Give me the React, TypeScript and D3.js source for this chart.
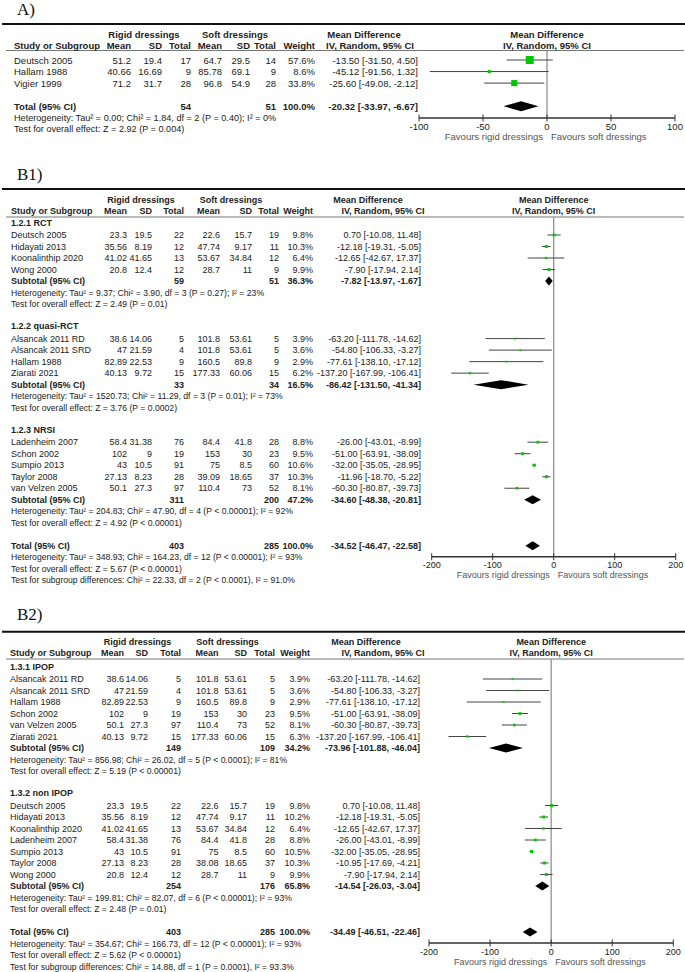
import React from "react";
import * as d3 from "d3";

// [study, rigid mean, rigid SD, rigid n, soft mean, soft SD, soft n, weight %, MD, CI low, CI high]
type Study = [string, number, number, number, number, number, number, number, number, number, number];
// [rigid n, soft n, weight %, MD, CI low, CI high]
type Summary = [number, number, number, number, number, number];

// ---- A) ----
const studiesA: Study[] = [
  ["Deutsch 2005", 51.2, 19.4, 17, 64.7, 29.5, 14, 57.6, -13.5, -31.5, 4.5],
  ["Hallam 1988", 40.66, 16.69, 9, 85.78, 69.1, 9, 8.6, -45.12, -91.56, 1.32],
  ["Vigier 1999", 71.2, 31.7, 28, 96.8, 54.9, 28, 33.8, -25.6, -49.08, -2.12],
];
const totalA: Summary = [54, 51, 100, -20.32, -33.97, -6.67];
const notesA = [
  "Heterogeneity: Tau² = 0.00; Chi² = 1.84, df = 2 (P = 0.40); I² = 0%",
  "Test for overall effect: Z = 2.92 (P = 0.004)",
];

// ---- B1) ----
const groupsB1 = ["1.2.1 RCT", "1.2.2 quasi-RCT", "1.2.3 NRSI"];
const rctB1: Study[] = [
  ["Deutsch 2005", 23.3, 19.5, 22, 22.6, 15.7, 19, 9.8, 0.7, -10.08, 11.48],
  ["Hidayati 2013", 35.56, 8.19, 12, 47.74, 9.17, 11, 10.3, -12.18, -19.31, -5.05],
  ["Koonalinthip 2020", 41.02, 41.65, 13, 53.67, 34.84, 12, 6.4, -12.65, -42.67, 17.37],
  ["Wong 2000", 20.8, 12.4, 12, 28.7, 11, 9, 9.9, -7.9, -17.94, 2.14],
];
const quasiB1: Study[] = [
  ["Alsancak 2011 RD", 38.6, 14.06, 5, 101.8, 53.61, 5, 3.9, -63.2, -111.78, -14.62],
  ["Alsancak 2011 SRD", 47, 21.59, 4, 101.8, 53.61, 5, 3.6, -54.8, -106.33, -3.27],
  ["Hallam 1988", 82.89, 22.53, 9, 160.5, 89.8, 9, 2.9, -77.61, -138.1, -17.12],
  ["Ziarati 2021", 40.13, 9.72, 15, 177.33, 60.06, 15, 6.2, -137.2, -167.99, -106.41],
];
const nrsiB1: Study[] = [
  ["Ladenheim 2007", 58.4, 31.38, 76, 84.4, 41.8, 28, 8.8, -26.0, -43.01, -8.99],
  ["Schon 2002", 102, 9, 19, 153, 30, 23, 9.5, -51.0, -63.91, -38.09],
  ["Sumpio 2013", 43, 10.5, 91, 75, 8.5, 60, 10.6, -32.0, -35.05, -28.95],
  ["Taylor 2008", 27.13, 8.23, 28, 39.09, 18.65, 37, 10.3, -11.96, -18.7, -5.22],
  ["van Velzen 2005", 50.1, 27.3, 97, 110.4, 73, 52, 8.1, -60.3, -80.87, -39.73],
];
const subtotalsB1: Summary[] = [
  [59, 51, 36.3, -7.82, -13.97, -1.67],
  [33, 34, 16.5, -86.42, -131.5, -41.34],
  [311, 200, 47.2, -34.6, -48.38, -20.81],
];
const groupNotesB1 = [
  ["Heterogeneity: Tau² = 9.37; Chi² = 3.90, df = 3 (P = 0.27); I² = 23%", "Test for overall effect: Z = 2.49 (P = 0.01)"],
  ["Heterogeneity: Tau² = 1520.73; Chi² = 11.29, df = 3 (P = 0.01); I² = 73%", "Test for overall effect: Z = 3.76 (P = 0.0002)"],
  ["Heterogeneity: Tau² = 204.83; Chi² = 47.90, df = 4 (P < 0.00001); I² = 92%", "Test for overall effect: Z = 4.92 (P < 0.00001)"],
];
const totalB1: Summary = [403, 285, 100, -34.52, -46.47, -22.58];
const notesB1 = [
  "Heterogeneity: Tau² = 348.93; Chi² = 164.23, df = 12 (P < 0.00001); I² = 93%",
  "Test for overall effect: Z = 5.67 (P < 0.00001)",
  "Test for subgroup differences: Chi² = 22.33, df = 2 (P < 0.0001), I² = 91.0%",
];

// ---- B2) ----
const groupsB2 = ["1.3.1 IPOP", "1.3.2 non IPOP"];
const ipopB2: Study[] = [
  ["Alsancak 2011 RD", 38.6, 14.06, 5, 101.8, 53.61, 5, 3.9, -63.2, -111.78, -14.62],
  ["Alsancak 2011 SRD", 47, 21.59, 4, 101.8, 53.61, 5, 3.6, -54.8, -106.33, -3.27],
  ["Hallam 1988", 82.89, 22.53, 9, 160.5, 89.8, 9, 2.9, -77.61, -138.1, -17.12],
  ["Schon 2002", 102, 9, 19, 153, 30, 23, 9.5, -51.0, -63.91, -38.09],
  ["van Velzen 2005", 50.1, 27.3, 97, 110.4, 73, 52, 8.1, -60.3, -80.87, -39.73],
  ["Ziarati 2021", 40.13, 9.72, 15, 177.33, 60.06, 15, 6.3, -137.2, -167.99, -106.41],
];
const nonIpopB2: Study[] = [
  ["Deutsch 2005", 23.3, 19.5, 22, 22.6, 15.7, 19, 9.8, 0.7, -10.08, 11.48],
  ["Hidayati 2013", 35.56, 8.19, 12, 47.74, 9.17, 11, 10.2, -12.18, -19.31, -5.05],
  ["Koonalinthip 2020", 41.02, 41.65, 13, 53.67, 34.84, 12, 6.4, -12.65, -42.67, 17.37],
  ["Ladenheim 2007", 58.4, 31.38, 76, 84.4, 41.8, 28, 8.8, -26.0, -43.01, -8.99],
  ["Sumpio 2013", 43, 10.5, 91, 75, 8.5, 60, 10.5, -32.0, -35.05, -28.95],
  ["Taylor 2008", 27.13, 8.23, 28, 38.08, 18.65, 37, 10.3, -10.95, -17.69, -4.21],
  ["Wong 2000", 20.8, 12.4, 12, 28.7, 11, 9, 9.9, -7.9, -17.94, 2.14],
];
const subtotalsB2: Summary[] = [
  [149, 109, 34.2, -73.96, -101.88, -46.04],
  [254, 176, 65.8, -14.54, -26.03, -3.04],
];
const groupNotesB2 = [
  ["Heterogeneity: Tau² = 856.98; Chi² = 26.02, df = 5 (P < 0.0001); I² = 81%", "Test for overall effect: Z = 5.19 (P < 0.00001)"],
  ["Heterogeneity: Tau² = 199.81; Chi² = 82.07, df = 6 (P < 0.00001); I² = 93%", "Test for overall effect: Z = 2.48 (P = 0.01)"],
];
const totalB2: Summary = [403, 285, 100, -34.49, -46.51, -22.46];
const notesB2 = [
  "Heterogeneity: Tau² = 354.67; Chi² = 166.73, df = 12 (P < 0.00001); I² = 93%",
  "Test for overall effect: Z = 5.62 (P < 0.00001)",
  "Test for subgroup differences: Chi² = 14.88, df = 1 (P = 0.0001), I² = 93.3%",
];

const ticksA = [-100, -50, 0, 50, 100];
const ticksB = [-200, -100, 0, 100, 200];

type Row =
  | { kind: "study"; s: Study }
  | { kind: "group"; label: string }
  | { kind: "sum"; label: string; v: Summary }
  | { kind: "note"; label: string }
  | { kind: "blank" };

function buildRows(groups: string[], studies: Study[][], subs: Summary[], groupNotes: string[][], total: Summary, notes: string[]) {
  const rows: Row[] = [];
  groups.forEach((g, i) => {
    rows.push({ kind: "group", label: g });
    studies[i].forEach((s) => rows.push({ kind: "study", s }));
    rows.push({ kind: "sum", label: "Subtotal (95% CI)", v: subs[i] });
    groupNotes[i].forEach((n) => rows.push({ kind: "note", label: n }));
    rows.push({ kind: "blank" });
  });
  rows.push({ kind: "sum", label: "Total (95% CI)", v: total });
  notes.forEach((n) => rows.push({ kind: "note", label: n }));
  return rows;
}

const rowsA: Row[] = [
  ...studiesA.map((s) => ({ kind: "study", s } as Row)),
  { kind: "blank" },
  { kind: "sum", label: "Total (95% CI)", v: totalA },
  ...notesA.map((n) => ({ kind: "note", label: n } as Row)),
];
const rowsB1 = buildRows(groupsB1, [rctB1, quasiB1, nrsiB1], subtotalsB1, groupNotesB1, totalB1, notesB1);
const rowsB2 = buildRows(groupsB2, [ipopB2, nonIpopB2], subtotalsB2, groupNotesB2, totalB2, notesB2);

const cfgA = {
  title: "A)", titleY: 15, thickY: 24, h1Y: 34, h2Y: 45, thinY: 50.5, row0: 60, step: 11.55, fs: 9.5,
  cols: { name: 14, m1: 131, sd1: 162, n1: 191, m2: 222, sd2: 250, n2: 276, w: 315, ci: 418 },
  rigidC: 144, softC: 235, mdC: 364, ivC: 370,
  domain: [-100, 100], range: [419, 675], ticks: ticksA, axisY: 118, boxK: 1.05, diamondH: 10,
};
const cfgB1 = {
  title: "B1)", titleY: 180, thickY: 189, h1Y: 200, h2Y: 211, thinY: 217, row0: 223.5, step: 11.51, fs: 9,
  cols: { name: 11, m1: 127, sd1: 152, n1: 184, m2: 220, sd2: 252, n2: 279, w: 313, ci: 421 },
  rigidC: 141, softC: 231, mdC: 368, ivC: 383,
  domain: [-200, 200], range: [431.7, 675.7], ticks: ticksB, axisY: 556.7, boxK: 0.92, diamondH: 9,
};
const cfgB2 = {
  title: "B2)", titleY: 620, thickY: 631.7, h1Y: 642, h2Y: 653, thinY: 659, row0: 667.5, step: 11.5, fs: 9,
  cols: { name: 10, m1: 124, sd1: 148, n1: 181, m2: 218.5, sd2: 247, n2: 275, w: 310, ci: 420 },
  rigidC: 137.5, softC: 227.5, mdC: 366, ivC: 383,
  domain: [-200, 200], range: [429, 673.3], ticks: ticksB, axisY: 943, boxK: 0.92, diamondH: 9,
};

const FONT = "Arial, 'Liberation Sans', sans-serif";
const TXT = "#222";
const f2 = (v: number) => v.toFixed(2);
const ciText = (md: number, lo: number, hi: number) => `${f2(md)} [${f2(lo)}, ${f2(hi)}]`;

function Panel({ cfg, rows }: { cfg: typeof cfgA; rows: Row[] }) {
  const x = d3.scaleLinear().domain(cfg.domain).range(cfg.range);
  const y = (i: number) => cfg.row0 + i * cfg.step;
  const c = cfg.cols;
  const x0 = x(0);

  const T = (props: any) => (
    <text dominantBaseline="central" fontSize={cfg.fs} fill={TXT} {...props} />
  );

  const marks: React.ReactNode[] = [];
  const texts: React.ReactNode[] = [];

  rows.forEach((r, i) => {
    const yy = y(i);
    if (r.kind === "group") {
      texts.push(<T key={"g" + i} x={c.name} y={yy - 1} fontWeight="bold">{r.label}</T>);
    } else if (r.kind === "note") {
      texts.push(<T key={"n" + i} x={c.name} y={yy} fontSize={cfg.fs * 0.96}>{r.label}</T>);
    } else if (r.kind === "study") {
      const [name, m1, sd1, n1, m2, sd2, n2, w, md, lo, hi] = r.s;
      const vals: [number, string][] = [
        [c.m1, String(m1)], [c.sd1, String(sd1)], [c.n1, String(n1)],
        [c.m2, String(m2)], [c.sd2, String(sd2)], [c.n2, String(n2)],
        [c.w, `${w.toFixed(1)}%`], [c.ci, ciText(md, lo, hi)],
      ];
      texts.push(<T key={"s" + i} x={c.name} y={yy}>{name}</T>);
      vals.forEach(([xx, t], j) =>
        texts.push(<T key={`s${i}-${j}`} x={xx} y={yy} textAnchor="end">{t}</T>)
      );
      const side = Math.max(1.8, cfg.boxK * Math.sqrt(w));
      marks.push(
        <g key={"m" + i}>
          <line x1={x(lo)} x2={x(hi)} y1={yy} y2={yy} stroke="#444" strokeWidth={1} />
          <rect x={x(md) - side / 2} y={yy - side / 2} width={side} height={side} fill="#00c800" />
        </g>
      );
    } else if (r.kind === "sum") {
      const [n1, n2, w, md, lo, hi] = r.v;
      const vals: [number, string][] = [
        [c.n1, String(n1)], [c.n2, String(n2)],
        [c.w, `${w.toFixed(1)}%`], [c.ci, ciText(md, lo, hi)],
      ];
      texts.push(<T key={"t" + i} x={c.name} y={yy} fontWeight="bold">{r.label}</T>);
      vals.forEach(([xx, t], j) =>
        texts.push(<T key={`t${i}-${j}`} x={xx} y={yy} textAnchor="end" fontWeight="bold">{t}</T>)
      );
      const h = cfg.diamondH / 2;
      const pts = [[x(lo), yy], [x(md), yy - h], [x(hi), yy], [x(md), yy + h]]
        .map((p) => p.join(",")).join(" ");
      marks.push(<polygon key={"d" + i} points={pts} fill="#000" />);
    }
  });

  const [d0, d1] = cfg.domain;

  return (
    <g fontFamily={FONT}>
      <text x={17} y={cfg.titleY} fontFamily="'Liberation Serif', 'Times New Roman', serif" fontSize={17} fill="#111">
        {cfg.title}
      </text>
      <line x1={2} x2={685} y1={cfg.thickY} y2={cfg.thickY} stroke="#111" strokeWidth={2} />
      <line x1={6} x2={684} y1={cfg.thinY} y2={cfg.thinY} stroke="#777" strokeWidth={1} />

      {/* header */}
      <T x={cfg.rigidC} y={cfg.h1Y} textAnchor="middle" fontWeight="bold">Rigid dressings</T>
      <T x={cfg.softC} y={cfg.h1Y} textAnchor="middle" fontWeight="bold">Soft dressings</T>
      <T x={cfg.mdC} y={cfg.h1Y} textAnchor="middle" fontWeight="bold">Mean Difference</T>
      <T x={x0} y={cfg.h1Y} textAnchor="middle" fontWeight="bold">Mean Difference</T>
      <T x={c.name} y={cfg.h2Y} fontWeight="bold">Study or Subgroup</T>
      {([
        [c.m1, "Mean"], [c.sd1, "SD"], [c.n1, "Total"],
        [c.m2, "Mean"], [c.sd2, "SD"], [c.n2, "Total"], [c.w, "Weight"],
      ] as [number, string][]).map(([xx, t], j) => (
        <T key={"h" + j} x={xx} y={cfg.h2Y} textAnchor="end" fontWeight="bold">{t}</T>
      ))}
      <T x={cfg.ivC} y={cfg.h2Y} textAnchor="middle" fontWeight="bold">IV, Random, 95% CI</T>
      <T x={x0} y={cfg.h2Y} textAnchor="middle" fontWeight="bold">IV, Random, 95% CI</T>

      {/* zero line */}
      <line x1={x0} x2={x0} y1={cfg.thinY} y2={cfg.axisY} stroke="#888" strokeWidth={1.2} />

      {marks}
      {texts}

      {/* axis */}
      <line x1={x(d0)} x2={x(d1)} y1={cfg.axisY} y2={cfg.axisY} stroke="#333" strokeWidth={1.5} />
      {cfg.ticks.map((t) => (
        <g key={"tick" + t}>
          <line x1={x(t)} x2={x(t)} y1={cfg.axisY - 3.5} y2={cfg.axisY + 3.5} stroke="#333" strokeWidth={1} />
          <T x={x(t)} y={cfg.axisY + 8.5} textAnchor="middle">{String(t)}</T>
        </g>
      ))}
      <T x={x0 - 4} y={cfg.axisY + 18.5} textAnchor="end" fill="#555">Favours rigid dressings</T>
      <T x={x0 + 4} y={cfg.axisY + 18.5} fill="#555">Favours soft dressings</T>
    </g>
  );
}

export default function App() {
  return (
    <div style={{ position: "absolute", left: 0, top: 0, background: "#fff" }}>
      <svg width={685} height={972} style={{ display: "block" }}>
        <rect width={685} height={972} fill="#fff" />
        <Panel cfg={cfgA} rows={rowsA} />
        <Panel cfg={cfgB1} rows={rowsB1} />
        <Panel cfg={cfgB2} rows={rowsB2} />
      </svg>
    </div>
  );
}
